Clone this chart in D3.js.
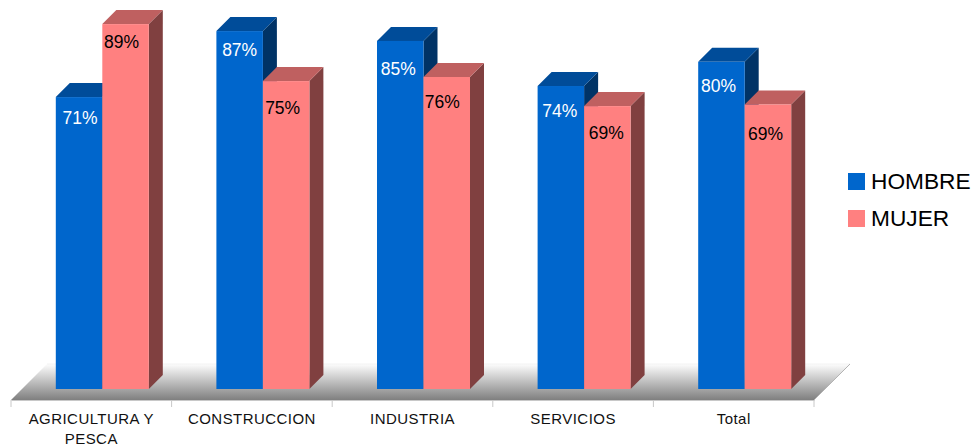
<!DOCTYPE html>
<html>
<head>
<meta charset="utf-8">
<script src="https://cdn.jsdelivr.net/npm/d3@7"></script>
<style>
  html, body { margin: 0; padding: 0; background: #fff; }
  svg { display: block; }
  text { font-family: "Liberation Sans", Arial, sans-serif; }
</style>
</head>
<body>
<div class="chart"></div>
<script>
var categories = ["AGRICULTURA Y PESCA", "CONSTRUCCION", "INDUSTRIA", "SERVICIOS", "Total"];
var seriesNames = ["HOMBRE", "MUJER"];
var hombre = [71.2, 87.3, 84.9, 73.9, 79.8];
var mujer = [89.0, 75.1, 76.1, 69.0, 69.4];

var width = 975, height = 448;
var depth = 14;        // bar extrusion
var floorDepth = 36;   // floor extrusion
var baseY = 389, axisY = 400;

var front = { HOMBRE: "#0066cc", MUJER: "#ff8080" };
var side = { HOMBRE: "#003366", MUJER: "#804040" };
var top3d = { HOMBRE: "#004c99", MUJER: "#bf6060" };
var labelColor = { HOMBRE: "#fff", MUJER: "#000" };

// labels were hand placed in the original: distance below the bar top, shift from bar centre
var labelDrop = {
  HOMBRE: [21, 19, 28, 25, 24],
  MUJER: [18, 27, 25, 27, 29]
};
var labelShift = {
  HOMBRE: [1, 0, -2, -1, -3],
  MUJER: [-4, -3.5, -4.5, -1, -2.5]
};

var svg = d3.select(".chart").append("svg")
  .attr("width", width)
  .attr("height", height);

var x0 = d3.scaleBand().domain(categories).range([11, 814]);
var x1 = d3.scaleBand().domain(seriesNames).range([44.8, 137.8]);
var y = d3.scaleLinear().domain([0, 100]).range([baseY, baseY - 410]);

var grad = svg.append("defs").append("linearGradient")
  .attr("id", "floor")
  .attr("x1", 0).attr("y1", 0)
  .attr("x2", 0).attr("y2", 1);
grad.append("stop").attr("offset", "0%").attr("stop-color", "#fdfdfd");
grad.append("stop").attr("offset", "100%").attr("stop-color", "#7f7f7f");

// floor
var left = x0.range()[0], right = x0.range()[1];
svg.append("polygon")
  .attr("points", [
    [left, axisY],
    [left + floorDepth, axisY - floorDepth],
    [right + floorDepth, axisY - floorDepth],
    [right, axisY]
  ].join(" "))
  .attr("fill", "url(#floor)");
svg.append("line")
  .attr("x1", left + floorDepth).attr("y1", axisY - floorDepth)
  .attr("x2", right + floorDepth).attr("y2", axisY - floorDepth)
  .attr("stroke", "#f2f2f2");
svg.append("line")
  .attr("x1", right).attr("y1", axisY)
  .attr("x2", right + floorDepth).attr("y2", axisY - floorDepth)
  .attr("stroke", "#b4b4b4");

// axis
var axis = svg.append("g")
  .attr("transform", "translate(0," + axisY + ")")
  .call(d3.axisBottom(x0).tickSize(0).tickPadding(13));
axis.select(".domain").attr("stroke", "#c8c8c8").attr("stroke-width", 1.2);
axis.selectAll("text")
  .attr("font-size", 15)
  .attr("font-family", "Liberation Sans")
  .attr("letter-spacing", 0.45)
  .attr("fill", "#111")
  .call(wrap, x0.step() - 20);

axis.selectAll(".edge")
  .data(d3.range(categories.length + 1))
  .join("line")
  .attr("class", "edge")
  .attr("x1", function(i) { return left + i * x0.step(); })
  .attr("x2", function(i) { return left + i * x0.step(); })
  .attr("y1", 0)
  .attr("y2", 7)
  .attr("stroke", "#c8c8c8");

// bars
var rows = categories.map(function(c, i) {
  return { category: c, values: [
    { name: "HOMBRE", value: hombre[i], index: i },
    { name: "MUJER", value: mujer[i], index: i }
  ] };
});

var groups = svg.selectAll(".group")
  .data(rows)
  .join("g")
  .attr("class", "group")
  .attr("transform", function(d) { return "translate(" + x0(d.category) + ",0)"; });

var bars = groups.selectAll(".bar")
  .data(function(d) { return d.values; })
  .join("g")
  .attr("class", "bar");

bars.append("polygon")
  .attr("fill", function(d) { return side[d.name]; })
  .attr("points", function(d) {
    var xr = x1(d.name) + x1.bandwidth(), yt = y(d.value);
    return [[xr, yt], [xr + depth, yt - depth], [xr + depth, baseY - depth], [xr, baseY]].join(" ");
  });

bars.append("polygon")
  .attr("fill", function(d) { return top3d[d.name]; })
  .attr("points", function(d) {
    var xl = x1(d.name), xr = xl + x1.bandwidth(), yt = y(d.value);
    return [[xl, yt], [xl + depth, yt - depth], [xr + depth, yt - depth], [xr, yt]].join(" ");
  });

bars.append("rect")
  .attr("x", function(d) { return x1(d.name); })
  .attr("y", function(d) { return y(d.value); })
  .attr("width", x1.bandwidth())
  .attr("height", function(d) { return baseY - y(d.value); })
  .attr("fill", function(d) { return front[d.name]; });

bars.append("text")
  .attr("x", function(d) { return x1(d.name) + x1.bandwidth() / 2 + labelShift[d.name][d.index]; })
  .attr("y", function(d) { return y(d.value) + labelDrop[d.name][d.index]; })
  .attr("dy", "0.36em")
  .attr("text-anchor", "middle")
  .attr("font-size", 17.5)
  .attr("fill", function(d) { return labelColor[d.name]; })
  .text(function(d) { return Math.round(d.value) + "%"; });

// legend
var legend = svg.selectAll(".legend")
  .data(seriesNames)
  .join("g")
  .attr("class", "legend")
  .attr("transform", function(d, i) { return "translate(848," + (173 + i * 37) + ")"; });

legend.append("rect")
  .attr("width", 17)
  .attr("height", 17)
  .attr("fill", function(d) { return front[d]; });

legend.append("text")
  .attr("x", 23)
  .attr("y", 8)
  .attr("dy", "0.36em")
  .attr("font-size", 22.7)
  .attr("fill", "#000")
  .text(function(d) { return d; });

function wrap(sel, maxWidth) {
  sel.each(function() {
    var t = d3.select(this);
    var words = t.text().split(" ");
    var yy = t.attr("y"), dy = parseFloat(t.attr("dy"));
    var line = [], n = 0;
    var tspan = t.text(null).append("tspan").attr("x", 0).attr("y", yy).attr("dy", dy + "em");
    words.forEach(function(w) {
      line.push(w);
      tspan.text(line.join(" "));
      if (tspan.node().getComputedTextLength() > maxWidth && line.length > 1) {
        line.pop();
        tspan.text(line.join(" "));
        line = [w];
        n++;
        tspan = t.append("tspan").attr("x", 0).attr("y", yy)
          .attr("dy", (n * 1.33 + dy) + "em")
          .text(w);
      }
    });
  });
}
</script>
</body>
</html>
